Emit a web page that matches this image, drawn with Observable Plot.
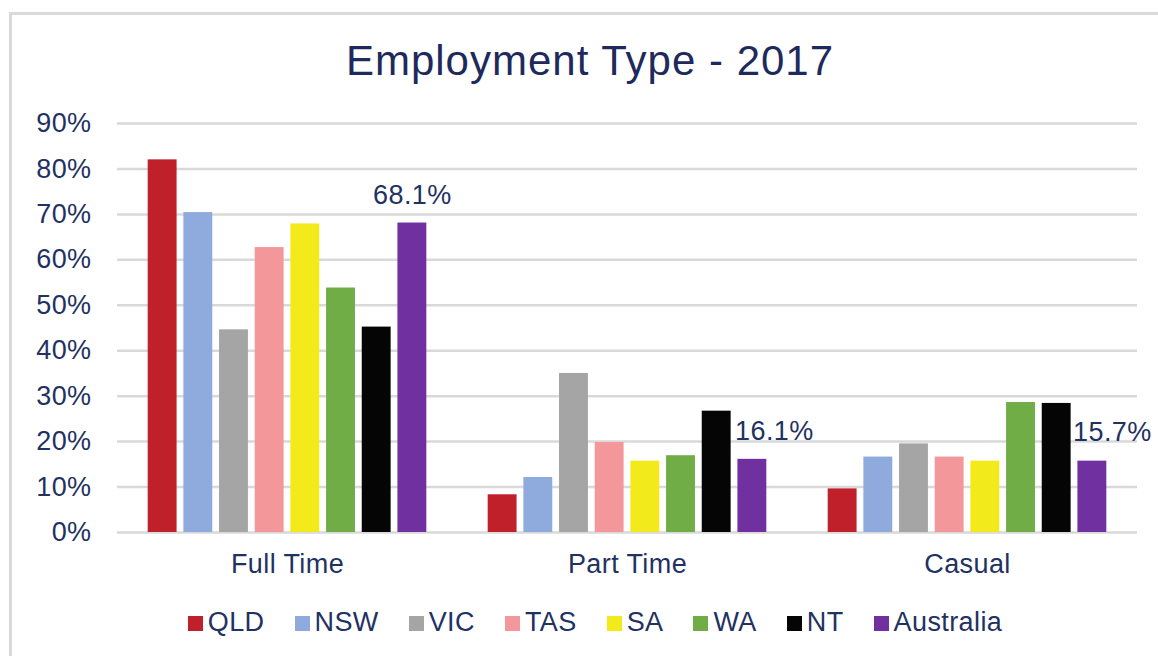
<!DOCTYPE html>
<html>
<head>
<meta charset="utf-8">
<script src="https://cdn.jsdelivr.net/npm/d3@7"></script>
<script src="https://cdn.jsdelivr.net/npm/@observablehq/plot@0.6"></script>
<style>
  html, body { margin: 0; padding: 0; background: #fff; width: 1158px; height: 656px; overflow: hidden; }
  body { position: relative; font-family: "Liberation Sans", Arial, sans-serif; color: #1F3262; }
  #frame { position: absolute; left: 9px; top: 12px; right: -20px; bottom: -20px; border-left: 3px solid #d9d9d9; border-top: 3px solid #d9d9d9; }
  #title { position: absolute; left: 0; width: 1180px; top: 40px; text-align: center; font-size: 42px; line-height: 42px; color: #1F2A5C; letter-spacing: 1px; }
  #chart { position: absolute; left: 0; top: 0; }
  #chart svg text { letter-spacing: 0.4px; }
  #legend { position: absolute; left: 0; width: 1190px; top: 607px; display: flex; justify-content: center; align-items: center; font-size: 27px; line-height: 30px; color: #1F3262; letter-spacing: 0.4px; }
  .item { display: flex; align-items: center; margin: 0 15px; }
  .sw { width: 15px; height: 15px; margin-right: 5px; margin-top: 3px; }
</style>
</head>
<body>
<div id="frame"></div>
<div id="title">Employment Type - 2017</div>
<div id="chart"></div>
<div id="legend"></div>
<script>
const categories = ["Full Time", "Part Time", "Casual"];
const states = ["QLD", "NSW", "VIC", "TAS", "SA", "WA", "NT", "Australia"];
const fullTime = [82.0, 70.4, 44.6, 62.7, 67.9, 53.8, 45.2, 68.1];
const partTime = [8.3, 12.1, 35.0, 19.8, 15.7, 16.9, 26.7, 16.1];
const casual = [9.6, 16.6, 19.5, 16.6, 15.7, 28.6, 28.4, 15.7];
const colors = ["#C0202A", "#8FAADC", "#A5A5A5", "#F4979A", "#F2EA1A", "#70AD47", "#050505", "#7030A0"];
const yTicks = [0, 10, 20, 30, 40, 50, 60, 70, 80, 90];

const seriesByCategory = [fullTime, partTime, casual];
const data = categories.flatMap((c, i) =>
  states.map((s, j) => ({category: c, state: s, value: seriesByCategory[i][j]}))
);

const labelOf = d => d.value.toFixed(1) + "%";
const isAus = cat => d => d.state === "Australia" && d.category === cat;

const chart = Plot.plot({
  width: 1158,
  height: 600,
  marginLeft: 116,
  marginRight: 20,
  marginTop: 123,
  marginBottom: 68,
  style: {fontFamily: "Liberation Sans, Arial, sans-serif", fontSize: "27px", color: "#1F3262", background: "transparent", overflow: "visible"},
  fx: {domain: categories, padding: 0, label: null, axis: "bottom", tickSize: 0, tickPadding: 21},
  x: {domain: states, paddingInner: 0.19, paddingOuter: 0.86, round: false, axis: null},
  y: {domain: [0, 90], ticks: yTicks, tickFormat: d => d + "%", tickSize: 0, tickPadding: 26, label: null},
  color: {domain: states, range: colors},
  marks: [
    Plot.ruleY(yTicks, {stroke: "#d9d9d9", strokeWidth: 2.5}),
    Plot.barY(data, {fx: "category", x: "state", y: "value", fill: "state"}),
    Plot.text(data, {filter: isAus("Full Time"), fx: "category", x: "state", y: "value", text: labelOf, dy: -28, dx: 0, fill: "#1F3262"}),
    Plot.text(data, {filter: isAus("Part Time"), fx: "category", x: "state", y: "value", text: labelOf, dy: -28, dx: 22, fill: "#1F3262"}),
    Plot.text(data, {filter: isAus("Casual"), fx: "category", x: "state", y: "value", text: labelOf, dy: -29, dx: 20, fill: "#1F3262"})
  ]
});
document.getElementById("chart").appendChild(chart);

const legend = document.getElementById("legend");
states.forEach((s, i) => {
  const item = document.createElement("div");
  item.className = "item";
  const sw = document.createElement("span");
  sw.className = "sw";
  sw.style.background = colors[i];
  const t = document.createElement("span");
  t.textContent = s;
  item.appendChild(sw);
  item.appendChild(t);
  legend.appendChild(item);
});
</script>
</body>
</html>
